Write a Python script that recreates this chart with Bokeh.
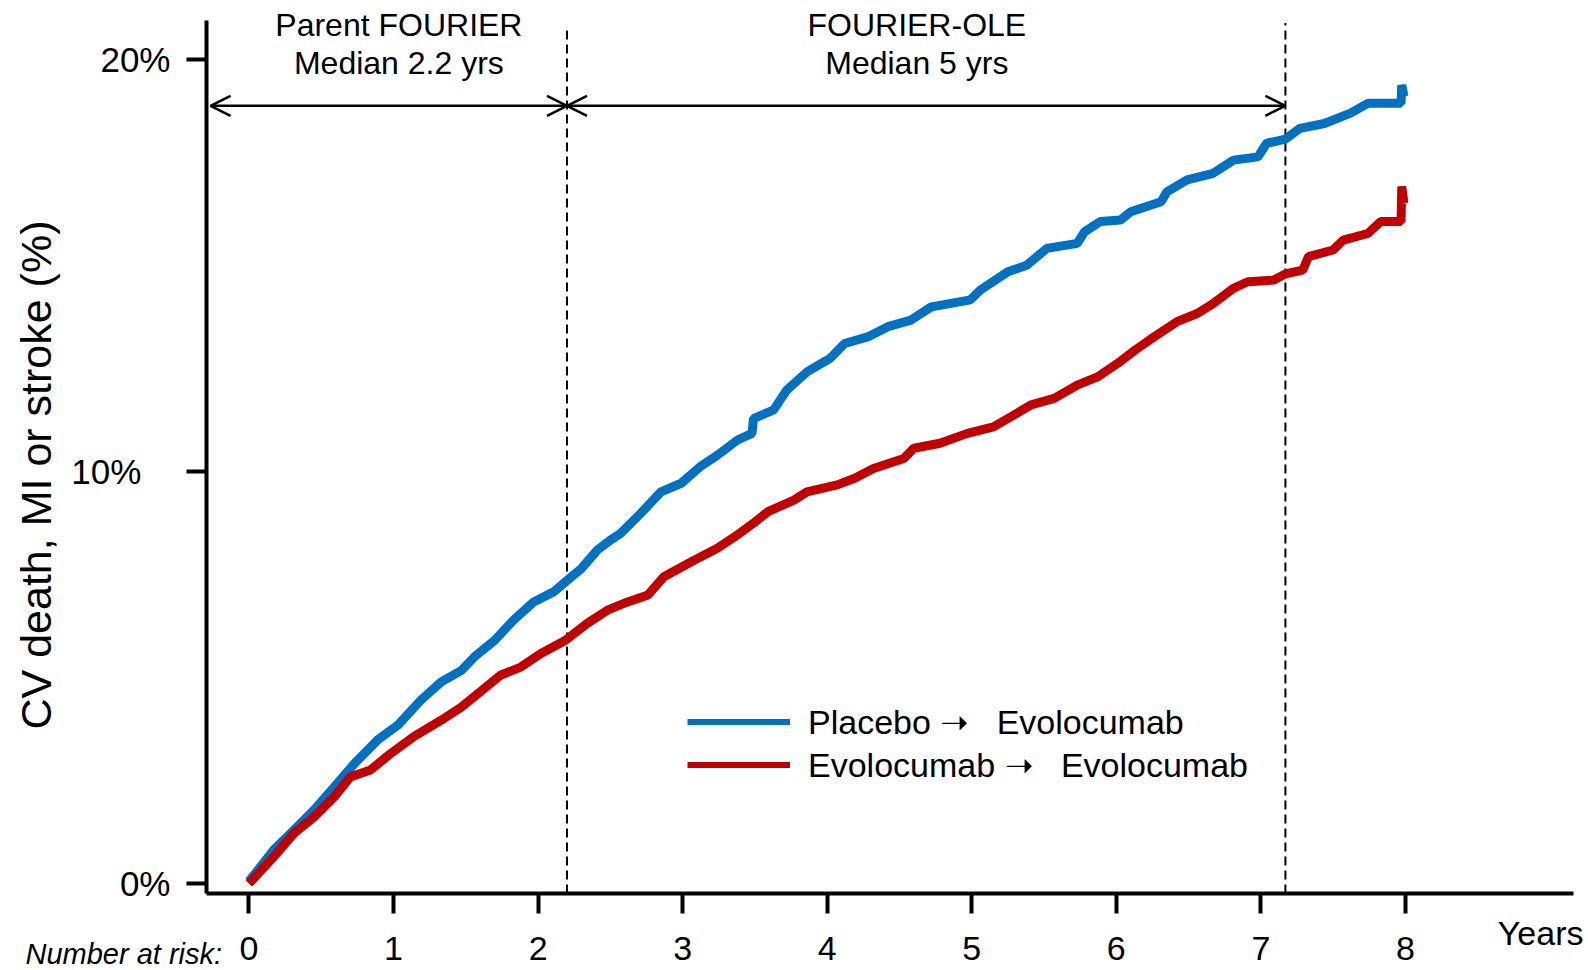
from bokeh.plotting import figure
from bokeh.models import (Range1d, FixedTicker, Label, Arrow, OpenHead, Legend, LegendItem, Title)
from bokeh.embed import file_html
from bokeh.resources import INLINE

# ---------------- data ----------------
year_ticks = [0, 1, 2, 3, 4, 5, 6, 7, 8]
pct_ticks = [0, 10, 20]
pct_labels = ["0%", "10%", "20%"]

placebo_t = [0.0, 0.17, 0.31, 0.45, 0.59, 0.73, 0.89, 1.03, 1.19, 1.33, 1.47, 1.56, 1.70,
             1.83, 1.97, 2.11, 2.19, 2.30, 2.41, 2.50, 2.57, 2.71, 2.85, 2.99, 3.12, 3.24,
             3.38, 3.48, 3.49, 3.63, 3.72, 3.86, 4.02, 4.12, 4.28, 4.42, 4.58, 4.72, 4.99,
             5.06, 5.25, 5.38, 5.52, 5.73, 5.78, 5.89, 6.03, 6.10, 6.31, 6.35, 6.49, 6.67,
             6.81, 6.98, 7.04, 7.17, 7.27, 7.44, 7.62, 7.74, 7.97, 7.975, 7.99]
placebo_pct = [0.05, 0.81, 1.29, 1.78, 2.34, 2.91, 3.48, 3.84, 4.45, 4.89, 5.17, 5.50, 5.90,
               6.39, 6.83, 7.08, 7.32, 7.64, 8.09, 8.33, 8.49, 8.98, 9.50, 9.71, 10.11, 10.39,
               10.76, 10.92, 11.28, 11.49, 11.97, 12.41, 12.74, 13.10, 13.26, 13.51, 13.67, 13.99, 14.16,
               14.40, 14.84, 15.00, 15.41, 15.53, 15.81, 16.06, 16.10, 16.30, 16.54, 16.78, 17.07, 17.23,
               17.55, 17.63, 17.96, 18.06, 18.32, 18.44, 18.69, 18.93, 18.93, 19.37, 19.10]

evo_t = [0.0, 0.17, 0.31, 0.45, 0.59, 0.70, 0.84, 0.98, 1.14, 1.33, 1.47, 1.60, 1.74, 1.88,
         2.02, 2.19, 2.34, 2.48, 2.62, 2.76, 2.87, 3.08, 3.24, 3.36, 3.49, 3.59, 3.77, 3.86,
         4.07, 4.19, 4.32, 4.53, 4.60, 4.78, 4.97, 5.15, 5.27, 5.41, 5.57, 5.73, 5.87, 6.01,
         6.13, 6.26, 6.42, 6.56, 6.67, 6.81, 6.91, 7.09, 7.17, 7.29, 7.33, 7.50, 7.57, 7.74,
         7.83, 7.97, 7.975, 7.99]
evo_pct = [0.0, 0.64, 1.21, 1.61, 2.10, 2.58, 2.75, 3.15, 3.56, 3.96, 4.28, 4.65, 5.05, 5.25,
           5.58, 5.90, 6.31, 6.63, 6.83, 7.00, 7.44, 7.84, 8.13, 8.41, 8.74, 9.02, 9.30, 9.50,
           9.67, 9.83, 10.07, 10.31, 10.56, 10.68, 10.92, 11.08, 11.32, 11.61, 11.77, 12.09, 12.29, 12.62,
           12.94, 13.26, 13.63, 13.83, 14.07, 14.44, 14.60, 14.64, 14.79, 14.88, 15.21, 15.37, 15.61, 15.77,
           16.06, 16.06, 16.91, 16.50]

series_names = ["Placebo \u279d\u00a0\u00a0 Evolocumab", "Evolocumab \u279d\u00a0\u00a0 Evolocumab"]
period_bounds = [2.2, 7.17]
period_titles = ["Parent FOURIER", "FOURIER-OLE"]
period_medians = ["Median 2.2 yrs", "Median 5 yrs"]
y_title = "CV death, MI or stroke (%)"

BLUE = "#0070C0"
RED = "#C00000"
FONT = "Liberation Sans"

Y0, Y1 = -0.245, 21.23   # frame top a little above the visible axis end

# ---------------- figure ----------------
p = figure(width=1588, height=970, output_backend="svg", toolbar_location=None,
           x_range=Range1d(-0.294, 9.163), y_range=Range1d(Y0, Y1),
           min_border_left=206, min_border_right=15, min_border_top=8, min_border_bottom=77)
p.outline_line_color = None
p.grid.visible = False
p.background_fill_color = "white"
p.border_fill_color = "white"

# axes
xa = p.xaxis[0]
xa.ticker = FixedTicker(ticks=year_ticks, minor_ticks=[])
xa.axis_line_width = 4
xa.major_tick_line_width = 4
xa.major_tick_out = 20
xa.major_tick_in = 0
xa.minor_tick_line_color = None
xa.major_label_text_font = FONT
xa.major_label_text_font_size = "34px"
xa.major_label_text_color = "black"
xa.major_label_standoff = 23

ya = p.yaxis[0]
ya.ticker = FixedTicker(ticks=pct_ticks, minor_ticks=[])
ya.bounds = (Y0, 20.94)
# the middle label sits further left in the reference
pad = {0: "", 10: "\u00a0\u00a0\u00a0", 20: ""}
ya.major_label_overrides = {t: l + pad[t] for t, l in zip(pct_ticks, pct_labels)}
ya.axis_line_width = 4
ya.major_tick_line_width = 4
ya.major_tick_out = 20
ya.major_tick_in = 0
ya.minor_tick_line_color = None
ya.major_label_text_font = FONT
ya.major_label_text_font_size = "35px"
ya.major_label_text_color = "black"
ya.major_label_standoff = 16

# y title as a side-panel title (exact placement along the axis)
t_ylab = Title(text=y_title, align="left", vertical_align="top", offset=164, standoff=-114,
               text_font=FONT, text_font_size="43px", text_font_style="normal",
               text_color="black")
p.add_layout(t_ylab, "left")

# dashed period boundaries
p.segment(x0=period_bounds, x1=period_bounds, y0=[Y0, Y0], y1=[20.73, 20.88],
          line_color="black", line_width=2, line_dash="9 5")

# thin copies (used only for the legend swatches, hidden under the curves)
lb = p.line(placebo_t, placebo_pct, line_color=BLUE, line_width=6)
lr = p.line(evo_t, evo_pct, line_color=RED, line_width=6)
# curves
p.line(placebo_t, placebo_pct, line_color=BLUE, line_width=9)
p.line(evo_t, evo_pct, line_color=RED, line_width=9)

# period arrows
arrow_y = 18.87
starts = [-0.266, period_bounds[0]]
ends = [period_bounds[0], period_bounds[1]]
for s, e in zip(starts, ends):
    p.add_layout(Arrow(x_start=s, y_start=arrow_y, x_end=e, y_end=arrow_y,
                       line_color="black", line_width=2.5,
                       start=OpenHead(size=20, line_width=2.5, line_color="black"),
                       end=OpenHead(size=20, line_width=2.5, line_color="black")))

title_x = [1.037, 4.62]
for tx, t1, t2 in zip(title_x, period_titles, period_medians):
    p.add_layout(Label(x=tx, y=20.82, text=t1, text_align="center", text_baseline="middle",
                       text_font=FONT, text_font_size="32px", text_color="black"))
    p.add_layout(Label(x=tx, y=19.91, text=t2, text_align="center", text_baseline="middle",
                       text_font=FONT, text_font_size="32px", text_color="black"))

# texts below the x axis (side-panel titles, so they are not clipped to the frame)
t_risk = Title(text="Number at risk:", align="left", vertical_align="top", offset=-181,
               standoff=-50, text_font=FONT, text_font_size="29px",
               text_font_style="italic", text_color="black")
t_years = Title(text="Years", align="right", vertical_align="top", offset=-10,
                standoff=-98, text_font=FONT, text_font_size="34px",
                text_font_style="normal", text_color="black")
p.add_layout(t_risk, "below")
p.add_layout(t_years, "below")

# legend
legend = Legend(items=[LegendItem(label=series_names[0], renderers=[lb]),
                       LegendItem(label=series_names[1], renderers=[lr])],
                location=(481, 107), orientation="vertical",
                glyph_width=103, glyph_height=43, label_height=43, label_standoff=18,
                padding=0, margin=0, spacing=0,
                label_text_font=FONT, label_text_font_size="34px", label_text_color="black",
                border_line_color=None, background_fill_alpha=0)
p.add_layout(legend)

open("out.html", "w").write(file_html(p, INLINE))
